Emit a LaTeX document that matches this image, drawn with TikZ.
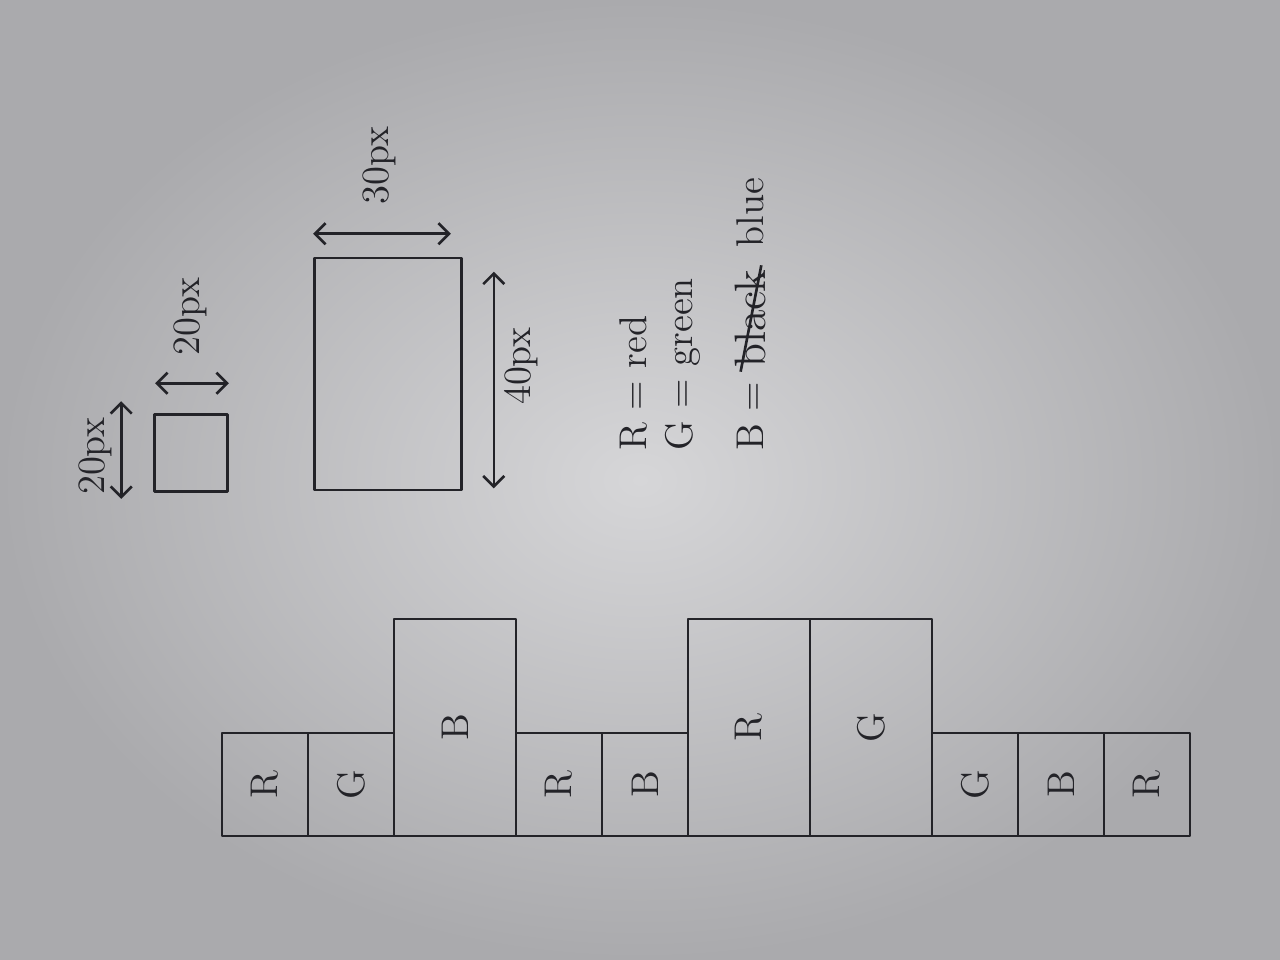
\documentclass[tikz,border=0pt]{standalone}
\usepackage{tikz}
\usepackage{xcolor}
\usetikzlibrary{arrows.meta}
\usetikzlibrary{positioning}
\definecolor{paperlight}{RGB}{214,214,216}
\definecolor{paperdark}{RGB}{170,170,173}
\definecolor{pencil}{RGB}{35,35,40}

\begin{document}
\begin{tikzpicture}[x=0.1mm,y=-0.1mm]
\tikzset{sketch/.style={draw=pencil,line width=0.75pt,line join=round},
sbox/.style={sketch,rectangle,text=pencil,minimum width=8.6mm,minimum height=10.3mm,inner sep=0pt,outer sep=0pt,font=\fontsize{11}{13}\selectfont},
tbox/.style={sbox,minimum width=12.2mm,minimum height=21.7mm},
dim/.style={sketch,{Straight Barb[length=3pt,width=6pt]}-{Straight Barb[length=3pt,width=6pt]}},
lbl/.style={text=pencil,rotate=90,font=\fontsize{11}{13}\selectfont,inner sep=1pt}}
% paper
\shade[inner color=paperlight,outer color=paperdark] (0,0) rectangle (1280,960);
\useasboundingbox (0,0) rectangle (1280,960);

% small square with its sizes
\node[sketch,minimum width=7.3mm,minimum height=7.7mm](sq) at (191,453){};
\draw[dim] ([xshift=-3.2mm,yshift=-0.6mm]sq.south west) -- ([xshift=-3.2mm,yshift=1.2mm]sq.north west)
  node[midway,xshift=-0.4mm,yshift=-0.6mm,lbl,anchor=south]{20px};
\draw[dim] ([xshift=0.2mm,yshift=3mm]sq.north west) -- ([yshift=3mm]sq.north east)
  node[midway,xshift=-0.2mm,yshift=2.3mm,lbl,anchor=west]{20px};

% big rectangle with its sizes
\node[sketch,minimum width=14.7mm,minimum height=23.2mm](big) at (388,374){};
\draw[dim] ([yshift=2.3mm]big.north west) -- ([xshift=-1.2mm,yshift=2.3mm]big.north east)
  node[midway,xshift=-0.3mm,yshift=2.4mm,lbl,anchor=west]{30px};
\draw[dim] ([xshift=3.1mm,yshift=-1.5mm]big.north east) -- ([xshift=3.1mm,yshift=0.3mm]big.south east)
  node[midway,xshift=0.6mm,yshift=1.4mm,lbl,anchor=north]{40px};

% key
\node[lbl,anchor=west](keyr) at (633,455){R = red};
\node[lbl,anchor=west](keyg) at (683,455){G = green};
\node[lbl,anchor=west](keyb) at (750,455){B =};
\node[lbl,anchor=west,xshift=0.6mm,font=\fontsize{12.5}{14}\selectfont](keyblack) at (keyb.east){black};
\node[lbl,anchor=west,xshift=1.4mm](keyblue) at (keyblack.east){blue};
\draw[sketch] (keyblack.170) -- (keyblack.-12);

% row of boxes
\node[sbox,anchor=south west](r1) at (222,836){\rotatebox{90}{R}};
\node[sbox,anchor=south west](g1) at (r1.south east){\rotatebox{90}{G}};
\node[tbox,anchor=south west](b1) at (g1.south east){\rotatebox{90}{B}};
\node[sbox,anchor=south west](r2) at (b1.south east){\rotatebox{90}{R}};
\node[sbox,anchor=south west](b2) at (r2.south east){\rotatebox{90}{B}};
\node[tbox,anchor=south west](r3) at (b2.south east){\rotatebox{90}{R}};
\node[tbox,anchor=south west](g2) at (r3.south east){\rotatebox{90}{G}};
\node[sbox,anchor=south west](g3) at (g2.south east){\rotatebox{90}{G}};
\node[sbox,anchor=south west](b3) at (g3.south east){\rotatebox{90}{B}};
\node[sbox,anchor=south west](r4) at (b3.south east){\rotatebox{90}{R}};
\end{tikzpicture}
\end{document}
